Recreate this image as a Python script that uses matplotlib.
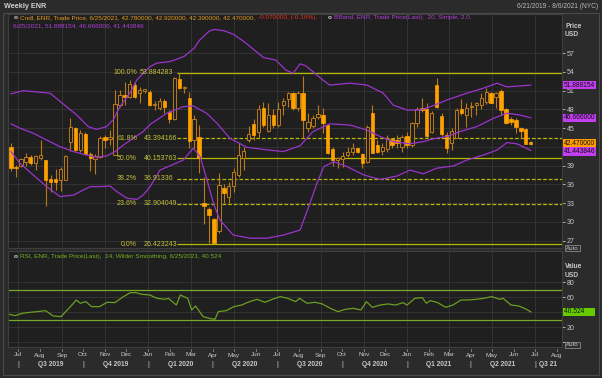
import numpy as np
import pandas as pd
import matplotlib
matplotlib.use('Agg')
import matplotlib.pyplot as plt
from matplotlib.patches import Rectangle

plt.rcParams['font.family'] = ['Liberation Sans', 'DejaVu Sans']

# weekly candles, first bar 21 Jun 2019, last bar 25 Jun 2021
start = pd.Timestamp('2019-06-21')
opens = [42.05, 38.85, 38.96, 39.65, 40.45, 39.5, 40.3, 39.9, 36.8, 36.87,
         36.7, 36.7, 42.85, 44.98, 41.5, 44.1, 40.9, 40.0, 40.35, 43.54,
         43.22, 40.7, 48.7, 50.3, 50.05, 51.9, 50.6, 51.0, 50.85, 48.7,
         48.3, 49.3, 47.65, 46.4, 52.8, 51.4, 49.8, 43.1, 43.54, 33.0,
         32.0, 30.4, 28.6, 35.5, 34.05, 35.75, 37.5, 40.3, 43.1, 45.6,
         44.45, 48.3, 44.6, 47.1, 45.5, 48.7, 49.6, 50.6, 48.2, 50.6,
         45.1, 45.35, 46.75, 47.1, 45.5, 41.6, 39.9, 40.0, 40.7, 41.25,
         41.8, 40.9, 39.65, 47.5, 42.3, 41.4, 41.6, 43.2, 43.1, 41.95,
         43.75, 42.3, 45.8, 48.3, 48.0, 44.45, 51.9, 46.95, 43.9, 42.7,
         43.5, 48.0, 47.1, 48.45, 48.7, 48.7, 49.25, 50.7, 50.05, 51.0,
         48.0, 46.4, 46.3, 45.1, 44.9, 42.78]
highs = [42.7, 39.1, 40.2, 41.1, 40.7, 40.7, 43.1, 39.9, 37.5, 38.4,
         38.75, 40.7, 46.7, 45.25, 44.7, 44.45, 41.25, 40.9, 43.76, 43.9,
         44.7, 51.1, 51.1, 52.45, 52.7, 52.45, 51.6, 51.3, 51.1, 49.4,
         49.9, 49.6, 47.9, 53.25, 53.88, 51.7, 50.85, 47.1, 45.5, 37.2,
         32.45, 30.6, 37.8, 36.0, 36.45, 38.6, 42.6, 41.95, 45.35, 46.4,
         48.7, 49.25, 49.0, 48.0, 49.25, 49.8, 50.85, 50.85, 51.0, 53.35,
         47.4, 47.1, 48.7, 48.2, 45.6, 41.95, 40.45, 41.25, 41.95, 42.6,
         41.9, 41.1, 45.5, 48.7, 43.1, 42.6, 43.9, 43.5, 43.9, 43.9,
         44.45, 46.0, 48.45, 49.8, 49.1, 47.8, 52.98, 47.4, 44.45, 45.0,
         48.2, 49.6, 49.0, 49.25, 49.25, 50.6, 51.4, 50.85, 50.75, 51.2,
         48.2, 46.75, 46.6, 45.2, 45.0, 42.92]
lows = [38.2, 37.25, 38.75, 38.95, 39.1, 38.3, 39.9, 32.5, 34.85, 35.1,
        35.0, 36.7, 41.4, 41.4, 41.25, 40.7, 38.2, 37.7, 40.3, 41.8,
        42.3, 40.7, 48.45, 48.7, 49.8, 49.8, 49.0, 50.6, 48.5, 47.9,
        47.9, 47.5, 45.8, 46.3, 51.2, 50.6, 41.9, 41.8, 37.9, 29.6,
        26.6, 26.42, 28.3, 33.0, 33.0, 34.85, 37.25, 38.3, 42.85, 43.1,
        43.4, 45.25, 44.45, 45.0, 45.25, 47.1, 48.45, 47.9, 47.8, 43.5,
        44.45, 45.0, 46.4, 44.3, 40.9, 38.95, 38.6, 38.85, 40.45, 40.7,
        41.0, 38.6, 39.4, 41.0, 41.0, 40.7, 41.25, 41.8, 41.9, 41.25,
        41.8, 42.05, 45.25, 47.65, 43.5, 44.2, 48.2, 43.75, 41.0, 41.5,
        43.4, 47.1, 45.25, 46.75, 47.1, 48.0, 48.9, 49.0, 48.2, 47.1,
        45.7, 45.5, 44.2, 43.4, 42.4, 42.39]
closes = [38.6, 38.6, 40.0, 40.34, 39.38, 40.56, 40.7, 36.7, 36.45, 36.45,
          38.4, 40.56, 45.25, 41.5, 44.2, 40.9, 40.3, 40.6, 43.4, 43.1,
          43.54, 48.9, 50.3, 50.05, 52.1, 50.05, 51.1, 51.2, 48.7, 48.9,
          49.4, 48.4, 46.4, 53.0, 51.4, 51.45, 43.0, 46.4, 40.3, 32.6,
          31.1, 26.6, 35.9, 34.6, 35.75, 38.05, 40.7, 41.4, 44.08, 43.9,
          48.0, 45.5, 47.1, 45.5, 48.0, 49.4, 50.6, 48.2, 50.6, 46.3,
          46.05, 46.6, 47.2, 45.8, 41.1, 39.9, 40.3, 40.55, 41.25, 41.8,
          41.25, 39.4, 45.25, 41.1, 41.25, 41.95, 43.2, 42.3, 42.6, 43.65,
          42.3, 45.9, 48.0, 47.9, 43.75, 47.5, 48.45, 44.08, 41.8, 44.6,
          47.9, 47.4, 48.2, 48.5, 49.1, 49.8, 50.85, 49.1, 50.6, 47.9,
          45.9, 46.0, 45.25, 44.6, 42.5, 42.47]

# Bollinger band (20, 2.0): (week index, value)
bb_up_x = [0, 2.5, 7.9, 11.2, 13.3, 15.6, 17.3, 19.3, 20.7, 22, 24, 25.4, 28, 29.4,
           32, 33, 35, 37, 38, 40, 41, 43, 45, 47, 49, 51, 53.5, 55.5, 57,
           58.4, 59.5, 61, 63, 64.4, 68.5, 71.9, 75.2, 77.2, 80, 82.6, 85.3,
           88, 92.1, 95.4, 98.2, 100.2, 102.8, 105]
bb_up = [50.5, 51.0, 50.6, 48.45, 47.1, 45.25, 44.8, 45.25, 46.4, 48.45, 50.6, 52.7, 54.8, 55.4,
         55.65, 55.9, 56.5, 57.8, 59.0, 60.5, 60.8, 60.6, 60.0, 58.9, 57.6, 56.3, 55.9, 54.3, 53.8,
         55.3, 55.0, 54.05, 52.7, 51.9, 52.2, 51.9, 50.6, 48.7, 47.9, 47.9, 48.6,
         49.5, 50.6, 51.4, 52.2, 51.6, 51.76, 51.888154]
bb_mid_x = [0, 1.8, 4.5, 7.2, 9.9, 12.6, 15.3, 17.3, 19.3, 21, 22.7, 24.7, 26.7, 28.1,
            31.5, 34.8, 36.8, 39.5, 41.6, 44.2, 47.6, 51, 55, 58.4, 61, 64.4,
            68.5, 71.9, 74.6, 77.2, 80.6, 83.3, 85.3, 88, 90.7, 94.1, 97.5,
            100.2, 102.8, 105]
bb_mid = [45.7, 45.0, 44.2, 43.1, 42.05, 41.25, 40.7, 40.35, 40.55, 41.25, 42.3, 43.4, 44.45, 45.6,
          47.4, 48.45, 48.56, 47.4, 45.8, 43.4, 41.95, 41.6, 41.25, 42.2, 44.45, 45.7,
          45.5, 44.7, 43.65, 42.85, 42.5, 42.85, 43.3, 43.65, 44.45, 45.25, 46.6,
          47.4, 47.1, 46.666]
bb_low_x = [0, 1.8, 4.5, 7.2, 9.9, 12.6, 14.6, 16, 18, 20, 21.4, 23.4, 25.4, 26.7, 28.1,
            30.1, 34.8, 36.8, 38.2, 39.6, 40.9, 42.2, 44.9, 48.3, 51.7, 55, 58.4,
            60.4, 61.8, 63.2, 65.2, 67.9, 71.3, 74.6, 78, 80.6, 83.3, 86, 89.4,
            92.1, 95.4, 98.2, 100.2, 102.2, 105]
bb_low = [41.25, 39.4, 37.5, 35.65, 34.05, 34.3, 35.1, 35.65, 35.65, 35.75, 34.85, 33.8, 33.6, 34.3, 35.65,
          38.3, 39.9, 41.8, 40.45, 36.7, 32.98, 30.3, 27.9, 27.4, 27.4, 27.9, 28.7,
          33.0, 36.2, 38.85, 39.65, 38.85, 37.5, 36.8, 37.35, 38.3, 37.7, 38.6, 38.96,
          39.9, 40.7, 41.5, 42.7, 42.5, 41.443846]

# RSI (14, Wilder)
rsi_x = [-0.6, 0.8, 2.3, 3.9, 5.4, 7.0, 8.5, 10.1, 12.0, 13.2, 14.0, 15.1, 16.3, 17.9,
         19.4, 21.0, 22.5, 24.1, 25.2, 26.4, 28.0, 29.5, 31.1, 31.8, 33.4, 34.2,
         35.7, 36.5, 37.3, 38.8, 40.0, 41.2, 41.9, 43.5, 45.0, 46.6, 48.2, 49.7,
         51.3, 52.8, 54.4, 55.9, 57.5, 58.3, 59.8, 61.4, 62.9, 64.5, 66.0, 67.6,
         69.1, 70.7, 71.8, 73.0, 74.6, 76.1, 77.7, 79.2, 80.0, 81.6, 83.1, 83.9,
         84.7, 86.2, 87.8, 89.3, 90.9, 92.4, 94.0, 95.5, 97.1, 98.7, 99.4, 101.0,
         102.6, 104.1, 105]
rsi_vals = [37.7, 35.5, 38.6, 40.0, 40.9, 42.2, 35.1, 34.2, 47.5, 56.4, 52.0, 54.2, 47.5, 47.5,
            53.3, 52.9, 60.0, 66.2, 66.2, 64.0, 63.1, 58.6, 57.3, 58.6, 49.7, 63.1,
            58.6, 43.1, 48.4, 34.2, 32.0, 30.6, 40.9, 42.2, 47.5, 49.7, 54.2, 57.3,
            53.3, 57.3, 60.9, 58.6, 54.2, 58.6, 52.0, 53.3, 51.1, 45.3, 40.9, 44.0,
            45.3, 43.1, 54.2, 46.6, 49.7, 51.1, 49.7, 52.9, 49.7, 58.6, 59.5, 52.0,
            55.5, 52.9, 46.6, 49.7, 56.4, 56.4, 57.3, 58.6, 60.9, 57.3, 58.6, 49.7,
            48.4, 44.0, 40.524]

fib_pcts = ['100.0%', '61.8%', '50.0%', '38.2%', '23.6%', '0.0%']
fib_vals = [53.884283, 43.394166, 40.153763, 36.91336, 32.904049, 26.423243]
fib_texts = ['53.884283', '43.394166', '40.153763', '36.91336', '32.904049', '26.423243']
fib_dashed = [False, True, False, True, True, False]

price_ticks = [27, 30, 33, 36, 39, 42, 45, 48, 51, 54, 57]
price_ticklabels = ['27', '30', '33', '36', '39', '', '45', '48', '51', '54', '57']
rsi_ticks = [0, 20, 40, 60, 80]
rsi_ticklabels = ['', '20', '', '60', '80']
months = pd.date_range('2019-07-01', '2021-08-01', freq='MS')
quarters = ['Q3 2019', 'Q4 2019', 'Q1 2020', 'Q2 2020', 'Q3 2020', 'Q4 2020',
            'Q1 2021', 'Q2 2021', 'Q3 21']

# ---- layout (pixel based) ----
W, H = 602, 378
BG = '#1f1f1f'
FRAME = '#2b2b2b'
GRID = '#363636'
TXT = '#c8c8c8'
ORANGE = '#ffa200'
HOLLOW = '#bb7a18'
PURPLE = '#9a34cc'
FIB = '#b8b800'
FIBTXT = '#c4c43a'
GREEN = '#6c9e22'

fig = plt.figure(figsize=(W / 100, H / 100), dpi=100)
fig.patch.set_facecolor(FRAME)


def box(x0, y0, x1, y1):
    return [x0 / W, 1 - y1 / H, (x1 - x0) / W, (y1 - y0) / H]


# outer frame of the chart window
fig.patches.append(Rectangle((3 / W, 1 - 375 / H), 596 / W, 362 / H, transform=fig.transFigure,
                             facecolor='none', edgecolor='#4a4a4a', linewidth=0.8))

ax = fig.add_axes(box(8, 14, 562, 248))
rx = fig.add_axes(box(8, 251, 562, 347))
xmin, xmax = -0.606, 111.31

month_x = [(m - start).days / 7 for m in months]
grid_x = [mx for m, mx in zip(months, month_x) if m.month % 2 == 1]

for a in (ax, rx):
    a.set_facecolor(BG)
    a.set_xlim(xmin, xmax)
    for s in a.spines.values():
        s.set_color('#3e3e3e')
        s.set_linewidth(0.8)
    a.yaxis.tick_right()
    a.tick_params(axis='y', colors=TXT, labelsize=5.0, length=2.5, width=0.6, pad=1)
    a.set_xticks(grid_x)
    a.tick_params(axis='x', length=0, labelbottom=False)
    a.grid(True, color=GRID, linewidth=0.6)
    a.set_axisbelow(True)

# month tick marks under the lower panel
for mx in month_x:
    rx.plot([mx, mx], [-0.02, -0.045], transform=rx.get_xaxis_transform(),
            color='#8a8a8a', linewidth=0.6, clip_on=False)

# price panel
ax.set_ylim(25.83, 63.27)
ax.set_yticks(price_ticks)
ax.set_yticklabels(price_ticklabels)

idx = np.arange(len(closes))
for i, o, h, l, c in zip(idx, opens, highs, lows, closes):
    down = c < o
    ax.vlines(i, l, h, color=HOLLOW, linewidth=0.8, zorder=3)
    lo, hgt = min(o, c), max(abs(c - o), 0.12)
    if down:
        ax.add_patch(Rectangle((i - 0.34, lo), 0.68, hgt, facecolor=ORANGE,
                               edgecolor=ORANGE, linewidth=0.5, zorder=4))
    else:
        ax.add_patch(Rectangle((i - 0.34, lo), 0.68, hgt, facecolor=BG,
                               edgecolor=HOLLOW, linewidth=0.7, zorder=4))

for bx, by in ((bb_up_x, bb_up), (bb_mid_x, bb_mid), (bb_low_x, bb_low)):
    ax.plot(bx, by, color=PURPLE, linewidth=0.9, zorder=5)


def ypix(v):
    return 72.7 + (53.884283 - v) * 6.25


fib_start = 33.6
for p, v, t, d in zip(fib_pcts, fib_vals, fib_texts, fib_dashed):
    ax.hlines(v, fib_start, xmax, color=FIB, linewidth=0.9,
              linestyles=(0, (3, 1.5)) if d else 'solid', zorder=2)
    fig.text(137 / W, 1 - ypix(v) / H, p, fontsize=5.0, color=FIBTXT,
             ha='right', va='center')
    fig.text((139.5 if p == '100.0%' else 144) / W, 1 - ypix(v) / H, t,
             fontsize=5.0, color=FIBTXT, ha='left', va='center')


# right-hand value flags
def flag(axis, val, label, fc):
    axis.annotate(label, xy=(1, val), xycoords=('axes fraction', 'data'),
                  xytext=(1.5, 0), textcoords='offset points', fontsize=4.8,
                  color='#101010', ha='left', va='center', annotation_clip=False,
                  bbox=dict(boxstyle='square,pad=0.1', fc=fc, ec='none'))


flag(ax, bb_up[-1], '51.888154', '#c23ef0')
flag(ax, bb_mid[-1], '46.666000', '#c23ef0')
flag(ax, bb_low[-1] - 0.15, '41.443846', '#c23ef0')
flag(ax, closes[-1] + 0.15, '42.470000', '#ff9d00')

# RSI panel
rx.set_ylim(-6.3, 121.7)
rx.set_yticks(rsi_ticks)
rx.set_yticklabels(rsi_ticklabels)
rx.axhline(70, color='#7aa82c', linewidth=0.9)
rx.axhline(30, color='#7aa82c', linewidth=0.9)
rx.plot(rsi_x, rsi_vals, color=GREEN, linewidth=0.9)
flag(rx, rsi_vals[-1], '40.524     ', '#66cc00')

# legends
fig.text(20 / W, 1 - 17.3 / H, 'Cndl, ENR, Trade Price, 6/25/2021, 42.780000, 42.920000, 42.390000, 42.470000,',
         fontsize=4.6, color='#e49a1e', va='center')
fig.text(258 / W, 1 - 17.3 / H, '-0.070000, (-0.16%),', fontsize=4.6, color='#e8301c', va='center')
fig.text(334 / W, 1 - 17.3 / H, 'BBand, ENR, Trade Price(Last),  20, Simple, 2.0,',
         fontsize=4.6, color='#b040d8', va='center')
fig.text(13 / W, 1 - 25.7 / H, '6/25/2021, 51.888154, 46.666000, 41.443846',
         fontsize=4.6, color='#b040d8', va='center')
fig.text(20 / W, 1 - 256.7 / H, 'RSI, ENR, Trade Price(Last),  14, Wilder Smoothing, 6/25/2021, 40.524',
         fontsize=4.6, color='#78b020', va='center')
for (lx, ly) in ((16, 17.3), (330, 17.3), (16, 256.7)):
    fig.text(lx / W, 1 - ly / H, 'o', fontsize=4.6, color='#d0d0d0', ha='center',
             va='center', fontweight='bold')

# axis captions
fig.text(565 / W, 1 - 26.5 / H, 'Price', fontsize=4.8, color=TXT, fontweight='bold', va='center')
fig.text(565 / W, 1 - 34.5 / H, 'USD', fontsize=4.8, color=TXT, fontweight='bold', va='center')
fig.text(565 / W, 1 - 266.7 / H, 'Value', fontsize=4.8, color=TXT, fontweight='bold', va='center')
fig.text(565 / W, 1 - 275.3 / H, 'USD', fontsize=4.8, color=TXT, fontweight='bold', va='center')
for ay in (248, 345):
    fig.text(566 / W, 1 - ay / H, 'Auto', fontsize=4.4, color=TXT, va='center',
             bbox=dict(boxstyle='square,pad=0.15', fc='#303030', ec='#9a9a9a', lw=0.5))

# title bar
fig.text(4 / W, 1 - 6.5 / H, 'Weekly ENR', fontsize=5.2, color='#d0d0d0', fontweight='bold', va='center')
fig.text(598 / W, 1 - 6.5 / H, '6/21/2019 - 8/6/2021 (NYC)', fontsize=4.8, color='#b8b8b8',
         ha='right', va='center')


# time axis
def xpix(v):
    return 8 + (v - xmin) / (xmax - xmin) * 554


for m, mx in zip(months, month_x):
    fig.text(xpix(mx) / W, 1 - 355 / H, m.strftime('%b'), fontsize=4.6, color=TXT,
             ha='center', va='center')
q_starts = [mx for m, mx in zip(months, month_x) if m.month in (1, 4, 7, 10)]
for k, qx in enumerate(q_starts):
    fig.text(xpix(qx) / W, 1 - 364 / H, '|', fontsize=5, color=TXT, ha='center', va='center')
    if k + 1 < len(q_starts):
        fig.text(xpix((qx + q_starts[k + 1]) / 2) / W, 1 - 364 / H, quarters[k], fontsize=4.8,
                 color=TXT, fontweight='bold', ha='center', va='center')
    else:
        fig.text((xpix(qx) + 4) / W, 1 - 364 / H, quarters[k], fontsize=4.8,
                 color=TXT, fontweight='bold', ha='left', va='center')

fig.savefig('out.png', dpi=100, facecolor=fig.get_facecolor())
